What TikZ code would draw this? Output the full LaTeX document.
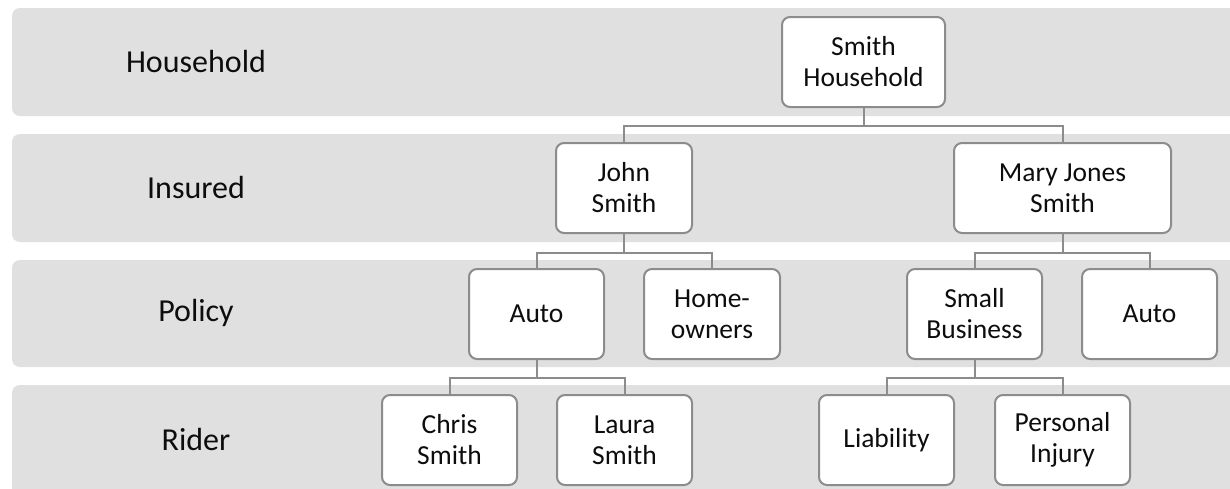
\documentclass[tikz,border=0pt]{standalone}
\usepackage{fontspec}
\setmainfont{Carlito}
\definecolor{bandgray}{HTML}{E0E0E0}
\definecolor{linegray}{HTML}{8C8C8C}
\definecolor{txt}{HTML}{0D0D0D}
\tikzset{
  band/.style={fill=bandgray, rounded corners=8pt},
  bandlabel/.style={text=txt, font=\fontsize{32pt}{36pt}\selectfont, anchor=center, inner sep=0pt},
  box/.style={draw=linegray, line width=2pt, fill=white, rounded corners=8pt,
    minimum width=135pt, minimum height=90pt, inner sep=0pt, align=center,
    text=txt, font=\fontsize{27.5pt}{31pt}\selectfont, anchor=center},
  conn/.style={draw=linegray, line width=2pt}
}
\begin{document}
\begin{tikzpicture}[x=1pt, y=-1pt]
\clip (0,0) rectangle (1230,488);
\fill[white] (0,0) rectangle (1230,488);
% bands
\fill[band] (12,8) rectangle (1245,116);
\fill[band] (12,134) rectangle (1245,242);
\fill[band] (12,260) rectangle (1245,367);
\fill[band] (12,385) rectangle (1245,500);
% band labels
\node[bandlabel] (lhh) at (196,62) {Household};
\node[bandlabel] (lins) at (196,188) {Insured};
\node[bandlabel] (lpol) at (196,313) {Policy};
\node[bandlabel] (lrid) at (196,439) {Rider};
% boxes
\node[box, minimum width=163pt] (hh) at (863.5,62) {Smith\\Household};
\node[box, minimum width=136pt] (john) at (624,188) {John\\Smith};
\node[box, minimum width=217pt] (mary) at (1062.5,188) {Mary Jones\\Smith};
\node[box] (auto1) at (536.5,314) {Auto};
\node[box, minimum width=136pt] (home) at (712,314) {Home-\\owners};
\node[box] (small) at (974.5,314) {Small\\Business};
\node[box] (auto2) at (1149.5,314) {Auto};
\node[box] (chris) at (449.5,440) {Chris\\Smith};
\node[box] (laura) at (624.5,440) {Laura\\Smith};
\node[box] (liab) at (886.5,440) {Liability};
\node[box] (pinj) at (1062.5,440) {Personal\\Injury};
% connectors
\draw[conn] (hh.south) -- ++(0,18) -| (john.north);
\draw[conn] (hh.south) -- ++(0,18) -| (mary.north);
\draw[conn] (john.south) -- ++(0,19) -| (auto1.north);
\draw[conn] (john.south) -- ++(0,19) -| (home.north);
\draw[conn] (mary.south) -- ++(0,19) -| (small.north);
\draw[conn] (mary.south) -- ++(0,19) -| (auto2.north);
\draw[conn] (auto1.south) -- ++(0,18) -| (chris.north);
\draw[conn] (auto1.south) -- ++(0,18) -| (laura.north);
\draw[conn] (small.south) -- ++(0,18) -| (liab.north);
\draw[conn] (small.south) -- ++(0,18) -| (pinj.north);
\end{tikzpicture}
\end{document}
